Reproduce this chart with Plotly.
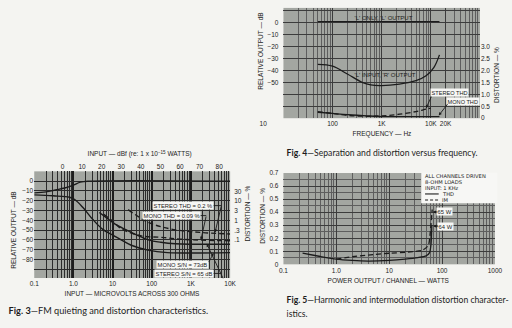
import plotly.graph_objects as go

W, H = 512, 328

# ---------------- Fig. 3: FM quieting and distortion ----------------
# input in microvolts across 300 ohms; output in dB; distortion in %
fm_out_uv = [0.1, 0.2, 0.35, 0.6, 1.0, 1.5, 2.5, 10000]
fm_out_db = [-12, -11, -9, -7, -4, -1, 0, 0]
mono_noise_uv = [0.1, 0.3, 0.8, 1.1, 1.75, 3.1, 5.5, 10, 15, 30, 80, 250, 10000]
mono_noise_db = [-14, -15, -16.5, -19, -27, -39, -49, -55, -59, -65.5, -70.5, -73, -73]
st_noise_uv = [4.6, 7.3, 11.6, 23, 41, 81, 170, 400, 10000]
st_noise_db = [-32, -38, -44, -50, -55, -60, -62.5, -64, -64.5]
mono_thd_uv = [6, 10, 17, 54, 170, 700, 10000]
mono_thd_pct = [2.0, 0.9, 0.36, 0.16, 0.135, 0.105, 0.09]
st_thd_uv = [25, 80, 300, 1700, 10000]
st_thd_pct = [3.5, 0.8, 0.36, 0.24, 0.2]

f3_uv_ticks = [0.1, 1, 10, 100, 1000, 10000]
f3_uv_text = ["0.1", "1.0", "10", "100", "1K", "10K"]
f3_dbf_ticks = [0, 10, 20, 30, 40, 50, 60, 70, 80]
f3_db_ticks = [0, -10, -20, -30, -40, -50, -60, -70, -80]
f3_pct_ticks = [30, 10, 3, 1, 0.3, 0.1]
f3_pct_text = ["30", "10", "3", "1", ".3", ".1"]

# ---------------- Fig. 4: separation and distortion vs frequency ----------------
lonly_hz = [50, 15000]
lonly_db = [0.8, 0.8]
sep_hz = [50, 100, 200, 400, 600, 1000, 2300, 5000, 8000, 11500, 15000]
sep_db = [-35, -36.5, -43, -50, -52.2, -52.7, -51.4, -48.6, -44.5, -37.7, -27]
f4_mono_hz = [50, 100, 200, 500, 1000, 2000, 5000, 10000, 15000]
f4_mono_pct = [0.25, 0.2, 0.15, 0.1, 0.07, 0.07, 0.07, 0.07, 0.07]
f4_st_hz = [50, 100, 200, 500, 1000, 2000, 5000, 8000, 10000]
f4_st_pct = [0.27, 0.2, 0.12, 0.08, 0.1, 0.15, 0.28, 0.38, 0.42]

f4_hz_ticks = [100, 1000, 10000, 20000]
f4_hz_text = ["100", "1K", "10K", "20K"]
f4_db_ticks = [0, -10, -20, -30, -40, -50]
f4_pct_ticks = [0, 0.5, 1.0, 1.5, 2.0, 2.5, 3.0]
f4_pct_text = ["0", "0.5", "1.0", "1.5", "2.0", "2.5", "3.0"]

# ---------------- Fig. 5: THD and IM vs power ----------------
thd_w = [0.23, 0.5, 1.0, 2, 4, 10, 20, 35, 50, 58, 62, 64]
thd_pct = [0.085, 0.06, 0.04, 0.03, 0.025, 0.03, 0.04, 0.052, 0.065, 0.09, 0.16, 0.30]
im_w = [1.0, 2, 5, 10, 25, 42, 55, 60, 65]
im_pct = [0.04, 0.058, 0.075, 0.085, 0.095, 0.107, 0.145, 0.25, 0.42]

f5_w_ticks = [0.1, 1, 10, 100, 1000]
f5_w_text = ["0.1", "1.0", "10", "100", "1000"]
f5_pct_ticks = [0, 0.1, 0.2, 0.3, 0.4, 0.5, 0.6, 0.7]
f5_pct_text = ["0", "0.1", "0.2", "0.3", "0.4", "0.5", "0.6", "0.7"]

FONT = "Liberation Sans, Arial, sans-serif"
WIDE = "DejaVu Sans, Liberation Sans, sans-serif"
CAP = "Lato, Open Sans, sans-serif"
INK = "#1c1c1c"
PAPER = "#f4f4f1"
PLOT = "#a3a6a1"


def fx(p):
    return p / W


def fy(p):
    return 1 - p / H


def log_minors(d0, d1):
    return [k * 10 ** d for d in range(d0, d1) for k in range(2, 10)]


tick_font = dict(family=FONT, size=6.5, color=INK)

fig = go.Figure()

# Fig. 3 traces
line3 = dict(color=INK, width=1.4)
fig.add_trace(go.Scatter(x=fm_out_uv, y=fm_out_db, mode="lines", line=dict(line3, shape="spline"),
                         xaxis="x", yaxis="y"))
fig.add_trace(go.Scatter(x=mono_noise_uv, y=mono_noise_db, mode="lines", line=dict(line3, shape="spline"),
                         xaxis="x", yaxis="y"))
fig.add_trace(go.Scatter(x=st_noise_uv, y=st_noise_db, mode="lines", line=dict(line3, shape="spline"),
                         xaxis="x", yaxis="y"))
fig.add_trace(go.Scatter(x=mono_thd_uv, y=mono_thd_pct, mode="lines",
                         line=dict(line3, shape="spline", dash="5px,3px"), xaxis="x", yaxis="y2"))
fig.add_trace(go.Scatter(x=st_thd_uv, y=st_thd_pct, mode="lines",
                         line=dict(line3, shape="spline", dash="5px,3px"), xaxis="x", yaxis="y2"))
# keeps the dBf scale on top of Fig. 3 alive
fig.add_trace(go.Scatter(x=f3_dbf_ticks, y=[None] * len(f3_dbf_ticks), mode="lines",
                         xaxis="x2", yaxis="y", hoverinfo="skip"))

# Fig. 4 traces
line4 = dict(color=INK, width=1.3)
fig.add_trace(go.Scatter(x=lonly_hz, y=lonly_db, mode="lines", line=line4, xaxis="x3", yaxis="y3"))
fig.add_trace(go.Scatter(x=sep_hz, y=sep_db, mode="lines", line=dict(line4, shape="spline"),
                         xaxis="x3", yaxis="y3"))
fig.add_trace(go.Scatter(x=f4_mono_hz, y=f4_mono_pct, mode="lines", line=dict(line4, shape="spline"),
                         xaxis="x3", yaxis="y4"))
fig.add_trace(go.Scatter(x=f4_st_hz, y=f4_st_pct, mode="lines",
                         line=dict(line4, shape="spline", dash="5px,3px"), xaxis="x3", yaxis="y4"))

# Fig. 5 traces
fig.add_trace(go.Scatter(x=thd_w, y=thd_pct, mode="lines", line=dict(line4, shape="spline", smoothing=0.6),
                         xaxis="x4", yaxis="y5"))
fig.add_trace(go.Scatter(x=im_w, y=im_pct, mode="lines",
                         line=dict(line4, shape="spline", smoothing=0.6, dash="5px,3px"),
                         xaxis="x4", yaxis="y5"))

fig.update_traces(showlegend=False)

G3 = "#1e1e1e"
G3m = "#2c2c2c"
G45 = "#3c3c3c"
G45m = "#5e5e5e"

common = dict(ticks="", showline=False, zeroline=False, tickfont=tick_font, fixedrange=True)

fig.update_layout(
    width=W, height=H, autosize=False,
    margin=dict(l=0, r=0, t=0, b=0),
    paper_bgcolor=PAPER, plot_bgcolor=PLOT,
    showlegend=False,
    # Fig. 3
    xaxis=dict(common, type="log", range=[-1, 4], domain=[fx(30), fx(231)], anchor="y",
               tickmode="array", tickvals=f3_uv_ticks, ticktext=f3_uv_text,
               showgrid=True, gridcolor=G3, gridwidth=1.6,
               minor=dict(tickvals=log_minors(-1, 4), showgrid=True, gridcolor=G3m, gridwidth=1.0, ticks="")),
    xaxis2=dict(common, range=[-14.4, 85.6], overlaying="x", side="top", anchor="y",
                tickmode="array", tickvals=f3_dbf_ticks, showgrid=False),
    yaxis=dict(common, range=[-99, 10], domain=[fy(280), fy(171)], anchor="x",
               tickmode="array", tickvals=f3_db_ticks, showgrid=True, gridcolor=G3m, gridwidth=1.2,
               minor=dict(tickvals=[-90], showgrid=True, gridcolor=G3m, gridwidth=1.2, ticks="")),
    yaxis2=dict(common, type="log", range=[-2.95, 2.5], overlaying="y", side="right", anchor="x",
                tickmode="array", tickvals=f3_pct_ticks, ticktext=f3_pct_text, showgrid=False,
                ticklabelstandoff=3),
    # Fig. 4
    xaxis3=dict(common, type="log", range=[1, 5], domain=[fx(285.7), fx(487.3)], anchor="y3",
                tickmode="array", tickvals=f4_hz_ticks, ticktext=f4_hz_text,
                showgrid=True, gridcolor=G45, gridwidth=1.3,
                minor=dict(tickvals=log_minors(1, 5), showgrid=True, gridcolor=G45m, gridwidth=0.8, ticks="")),
    yaxis3=dict(common, range=[-80, 12.3], domain=[fy(116.7), fy(4)], anchor="x3",
                tickmode="array", tickvals=f4_db_ticks, showgrid=True, gridcolor=G45, gridwidth=1.0,
                ticklabelstandoff=4,
                minor=dict(tickvals=[10, -60, -70], showgrid=True, gridcolor=G45, gridwidth=1.0, ticks="")),
    yaxis4=dict(common, range=[0, 4.62], overlaying="y3", side="right", anchor="x3",
                tickmode="array", tickvals=f4_pct_ticks, ticktext=f4_pct_text, showgrid=False),
    # Fig. 5
    xaxis4=dict(common, type="log", range=[-1, 3], domain=[fx(285.7), fx(502.7)], anchor="y5",
                tickmode="array", tickvals=f5_w_ticks, ticktext=f5_w_text,
                showgrid=True, gridcolor=G45, gridwidth=1.3, ticklabelstandoff=1,
                minor=dict(tickvals=log_minors(-1, 3), showgrid=True, gridcolor=G45m, gridwidth=0.8, ticks="")),
    yaxis5=dict(common, range=[0, 0.7], domain=[fy(266), fy(172.7)], anchor="x4",
                tickmode="array", tickvals=f5_pct_ticks, ticktext=f5_pct_text,
                showgrid=True, gridcolor=G45, gridwidth=1.0, ticklabelstandoff=4,
                minor=dict(tickvals=[0.05, 0.15, 0.25, 0.35, 0.45, 0.55, 0.65], showgrid=True,
                           gridcolor=G45m, gridwidth=0.7, ticks="")),
)


def text(x, y, s, size=6.5, anchor="center", angle=0, box=False, font=FONT, pad=0.6):
    fig.add_annotation(x=fx(x), y=fy(y), xref="paper", yref="paper", text=s, showarrow=False,
                       xanchor=anchor, yanchor="middle", textangle=angle,
                       font=dict(family=font, size=size, color=INK),
                       bgcolor="#f7f7f5" if box else None, borderpad=pad)


def arrow(tail, tip, head=2):
    fig.add_annotation(x=fx(tip[0]), y=fy(tip[1]), xref="paper", yref="paper", text="",
                       showarrow=True, axref="pixel", ayref="pixel",
                       ax=tail[0] - tip[0], ay=tail[1] - tip[1],
                       arrowhead=head, arrowsize=0.7, arrowwidth=0.9, arrowcolor=INK)


def stub(p0, p1, width=0.9, dash=None):
    fig.add_shape(type="line", xref="paper", yref="paper",
                  x0=fx(p0[0]), y0=fy(p0[1]), x1=fx(p1[0]), y1=fy(p1[1]),
                  line=dict(color=INK, width=width, dash=dash))


# ---- Fig. 3 labels ----
text(137.5, 153, "INPUT — dBf (re: 1 x 10<sup>−15</sup> WATTS)")
text(131, 295, "INPUT — MICROVOLTS ACROSS 300 OHMS")
text(8.5, 231, "RELATIVE OUTPUT — dB", angle=-90)
text(249, 214, "DISTORTION — %", angle=-90)
text(183, 206.2, "STEREO THD = 0.2 %", size=5.8, box=True)
text(171.3, 216.2, "MONO THD = 0.09 %", size=5.8, box=True)
text(181.7, 266, "MONO S/N = 73dB", size=5.8, box=True)
text(184, 275.3, "STEREO S/N = 65 dB", size=5.8, box=True)
stub((213.5, 206), (222, 206))
arrow((222, 206), (215.5, 233.5))
stub((199.5, 216.2), (206.5, 216.2))
arrow((206.5, 216.2), (201, 241))
arrow((208.5, 265), (214, 254.5))
stub((213.5, 275.3), (221.3, 275.3))
arrow((224, 281), (207, 245))
text(2, 313, "<b>Fig. 3</b>—FM quieting and distortion characteristics.", size=9.2, anchor="left", font=CAP)

# ---- Fig. 4 labels ----
text(265, 122, "10")
text(386.5, 132, "FREQUENCY — Hz")
text(262, 48, "RELATIVE OUTPUT — dB", angle=-90)
text(505, 73, "DISTORTION — %", angle=-90)
text(388, 13.3, "'L' ONLY, 'L' OUTPUT", size=6)
text(390, 71.7, "'L' INPUT, 'R' OUTPUT", size=6)
text(455.8, 90.3, "STEREO THD", size=5.6, box=True)
text(470, 100, "MONO THD", size=5.6, box=True)
arrow((438, 93.5), (432, 106.5))
arrow((455, 101), (445, 114))
text(287, 152, "<b>Fig. 4</b>—Separation and distortion versus frequency.", size=8.6, anchor="left", font=CAP)

# ---- Fig. 5 labels ----
text(394, 281.7, "POWER OUTPUT / CHANNEL — WATTS")
text(264, 216.7, "DISTORTION — %", angle=-90)
fig.add_shape(type="rect", xref="paper", yref="paper", x0=fx(427), x1=fx(505), y0=fy(203.5), y1=fy(172.5),
              fillcolor="#f7f7f5", line=dict(width=0))
key_rows = [175.8, 181.9, 188.0, 194.1, 200.2]
text(429.5, key_rows[0], "ALL CHANNELS DRIVEN", size=5.2, anchor="left", font=WIDE, pad=0)
text(429.5, key_rows[1], "8-OHM LOADS", size=5.2, anchor="left", font=WIDE, pad=0)
text(429.5, key_rows[2], "INPUT: 1 KHz", size=5.2, anchor="left", font=WIDE, pad=0)
stub((431, key_rows[3]), (445, key_rows[3]), width=1.1)
text(447, key_rows[3], "THD", size=5.2, anchor="left", font=WIDE, pad=0)
stub((431, key_rows[4]), (445, key_rows[4]), width=1.1, dash="3px,2px")
text(447, key_rows[4], "IM", size=5.2, anchor="left", font=WIDE, pad=0)
text(451, 212.5, "65 W", size=5.8, box=True)
text(452, 227, "64 W", size=5.8, box=True)
arrow((445, 212.5), (439, 212.5))
arrow((446, 227), (439.5, 227))
text(287, 302, "<b>Fig. 5</b>—Harmonic and intermodulation distortion character-", size=8.6, anchor="left",
     font=CAP)
text(287, 316, "istics.", size=8.6, anchor="left", font=CAP)

fig.write_html("out.html")
